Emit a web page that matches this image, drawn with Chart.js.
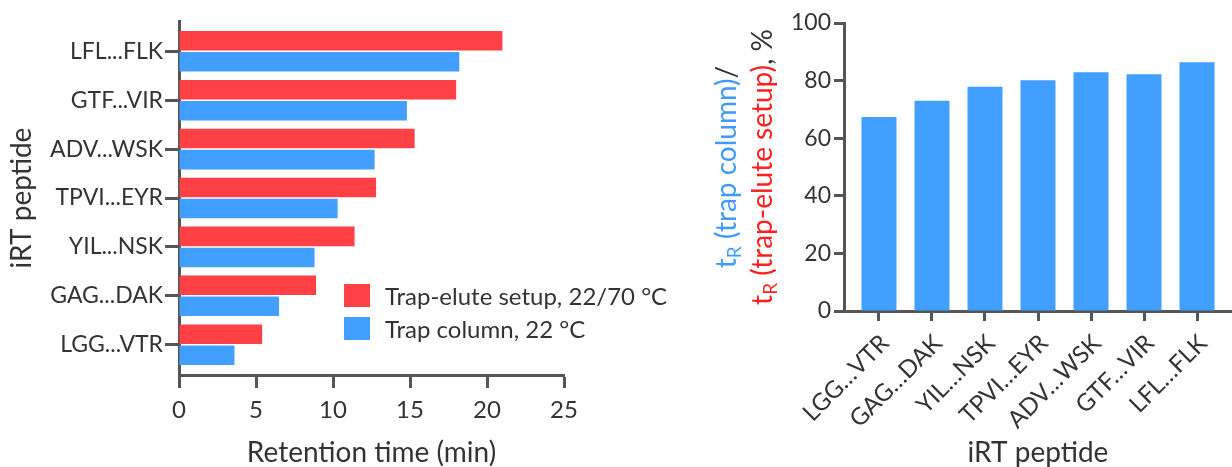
<!DOCTYPE html>
<html lang="en">
<head>
  <meta charset="UTF-8">
  <title>iRT peptide retention times</title>
  <script src="https://cdn.jsdelivr.net/npm/chart.js"></script>
  <style>
    body {
      margin: 0;
      background: #fff;
      width: 1232px;
      height: 467px;
      position: relative;
      overflow: hidden;
      font-family: 'Lato', sans-serif;
    }
    #leftBox { position: absolute; left: 0; top: 0; width: 600px; height: 467px; }
    #rightBox { position: absolute; left: 700px; top: 0; width: 532px; height: 467px; }

    /* legend sits inside the left plot */
    .legend { position: absolute; left: 344px; top: 284px; color: #333; font-size: 24px; }
    .legend .row { display: flex; align-items: center; height: 23px; margin-bottom: 10px; white-space: nowrap; }
    .legend .swatch { width: 26px; height: 23px; margin-right: 15px; flex: none; }
  </style>
</head>
<body>

  <div id="leftBox"><canvas id="timeChart"></canvas></div>
  <div id="rightBox"><canvas id="ratioChart"></canvas></div>

  <div class="legend">
    <div class="row"><span class="swatch" style="background:#ff4045"></span>Trap-elute setup, 22/70 °C</div>
    <div class="row"><span class="swatch" style="background:#409fff"></span>Trap column, 22 °C</div>
  </div>

  <script>
    // values
    const peptides = ['LGG...VTR', 'GAG...DAK', 'YIL...NSK', 'TPVI...EYR', 'ADV...WSK', 'GTF...VIR', 'LFL...FLK'];
    const trapEluteTimes = [5.4, 8.9, 11.4, 12.8, 15.3, 18.0, 21.0];
    const trapColumnTimes = [3.6, 6.5, 8.8, 10.3, 12.7, 14.8, 18.2];
    const ratioPercent = [67.4, 73.0, 77.9, 80.1, 82.9, 82.2, 86.4];
    const timeTicks = [0, 5, 10, 15, 20, 25];
    const percentTicks = [0, 20, 40, 60, 80, 100];

    const RED = '#ff4045';
    const BLUE = '#409fff';
    const TITLE_RED = '#ff1f1f';
    const TITLE_BLUE = '#3d9bff';
    const AXIS = '#555';
    const TEXT = '#333';
    const FONT = 'Lato, sans-serif';

    Chart.defaults.font.family = FONT;
    Chart.defaults.color = TEXT;

    const axisGrid = (len) => ({
      drawOnChartArea: false, drawTicks: true, offset: false,
      tickLength: len, tickWidth: 3, tickColor: AXIS
    });
    const axisBorder = { display: true, color: AXIS, width: 3 };

    // Left: horizontal grouped bars
    new Chart(document.getElementById('timeChart'), {
      type: 'bar',
      data: {
        datasets: [
          {
            label: 'Trap-elute setup, 22/70 °C',
            data: peptides.map((p, i) => ({ x: trapEluteTimes[i], y: i })),
            backgroundColor: RED
          },
          {
            label: 'Trap column, 22 °C',
            data: peptides.map((p, i) => ({ x: trapColumnTimes[i], y: i })),
            backgroundColor: BLUE
          }
        ]
      },
      options: {
        indexAxis: 'y',
        responsive: true,
        maintainAspectRatio: false,
        animation: false,
        categoryPercentage: 0.86,
        barPercentage: 0.93,
        layout: { padding: { top: 21, right: 36, left: 0, bottom: 0 } },
        plugins: { legend: { display: false }, tooltip: { enabled: false } },
        scales: {
          x: {
            type: 'linear', min: 0, max: 25, offset: false,
            afterBuildTicks: s => { s.ticks = timeTicks.map(v => ({ value: v })); },
            afterFit: s => { s.height = 92; },
            border: axisBorder,
            grid: axisGrid(13),
            ticks: { font: { size: 24 }, color: TEXT, padding: 8 },
            title: { display: true, text: 'Retention time (min)', font: { size: 28, lineHeight: 1 }, color: TEXT, padding: { top: 0, bottom: 0 } }
          },
          y: {
            type: 'linear', min: -0.62, max: 6.62, offset: false,
            afterBuildTicks: s => { s.ticks = peptides.map((p, i) => ({ value: i })); },
            afterFit: s => { s.width = 179; },
            border: axisBorder,
            grid: axisGrid(14),
            ticks: { font: { size: 23 }, color: TEXT, padding: 2, callback: v => peptides[v] },
            title: { display: true, text: 'iRT peptide', font: { size: 28, lineHeight: 1 }, color: TEXT, padding: { top: 8, bottom: 0 } }
          }
        }
      }
    });

    // two-colour rotated y title with subscript R
    const ratioTitle = {
      id: 'ratioTitle',
      afterDraw(chart) {
        const ctx = chart.ctx;
        const area = chart.chartArea;
        const lines = [
          { dx: 117, parts: [['t', TITLE_BLUE], ['R', TITLE_BLUE, true], [' (trap column)', TITLE_BLUE], ['/', TEXT]] },
          { dx: 81, parts: [['t', TITLE_RED], ['R', TITLE_RED, true], [' (trap-elute setup)', TITLE_RED], [', %', TEXT]] }
        ];
        const big = '28px ' + FONT, small = '19px ' + FONT;
        ctx.save();
        ctx.textBaseline = 'middle';
        ctx.textAlign = 'left';
        lines.forEach(line => {
          let total = 0;
          line.parts.forEach(p => { ctx.font = p[2] ? small : big; total += ctx.measureText(p[0]).width; });
          ctx.save();
          ctx.translate(area.left - line.dx, (area.top + area.bottom) / 2);
          ctx.rotate(-Math.PI / 2);
          let x = -total / 2;
          line.parts.forEach(p => {
            ctx.font = p[2] ? small : big;
            ctx.fillStyle = p[1];
            ctx.fillText(p[0], x, p[2] ? 8 : 0);
            x += ctx.measureText(p[0]).width;
          });
          ctx.restore();
        });
        ctx.restore();
      }
    };

    // Right: ratio bars
    new Chart(document.getElementById('ratioChart'), {
      type: 'bar',
      data: {
        datasets: [{
          label: 'ratio',
          data: peptides.map((p, i) => ({ x: i, y: ratioPercent[i] })),
          backgroundColor: BLUE,
          categoryPercentage: 0.66,
          barPercentage: 1
        }]
      },
      options: {
        responsive: true,
        maintainAspectRatio: false,
        animation: false,
        layout: { padding: { top: 23, right: 0, left: 0, bottom: 0 } },
        plugins: { legend: { display: false }, tooltip: { enabled: false } },
        scales: {
          x: {
            type: 'linear', min: -0.66, max: 6.66, offset: false,
            afterBuildTicks: s => { s.ticks = peptides.map((p, i) => ({ value: i })); },
            afterFit: s => { s.height = 156; },
            border: axisBorder,
            grid: axisGrid(10),
            ticks: {
              font: { size: 24 }, color: TEXT, padding: 8, labelOffset: 6, minRotation: 45, maxRotation: 45,
              callback: v => peptides[v].replace('...', '…')
            },
            title: { display: true, text: 'iRT peptide', font: { size: 28, lineHeight: 1 }, color: TEXT, padding: { top: 0, bottom: 0 } }
          },
          y: {
            type: 'linear', min: 0, max: 100,
            afterBuildTicks: s => { s.ticks = percentTicks.map(v => ({ value: v })); },
            afterFit: s => { s.width = 144; },
            border: axisBorder,
            grid: axisGrid(10),
            ticks: { font: { size: 23 }, color: TEXT, padding: 3 }
          }
        }
      },
      plugins: [ratioTitle]
    });
  </script>
</body>
</html>
